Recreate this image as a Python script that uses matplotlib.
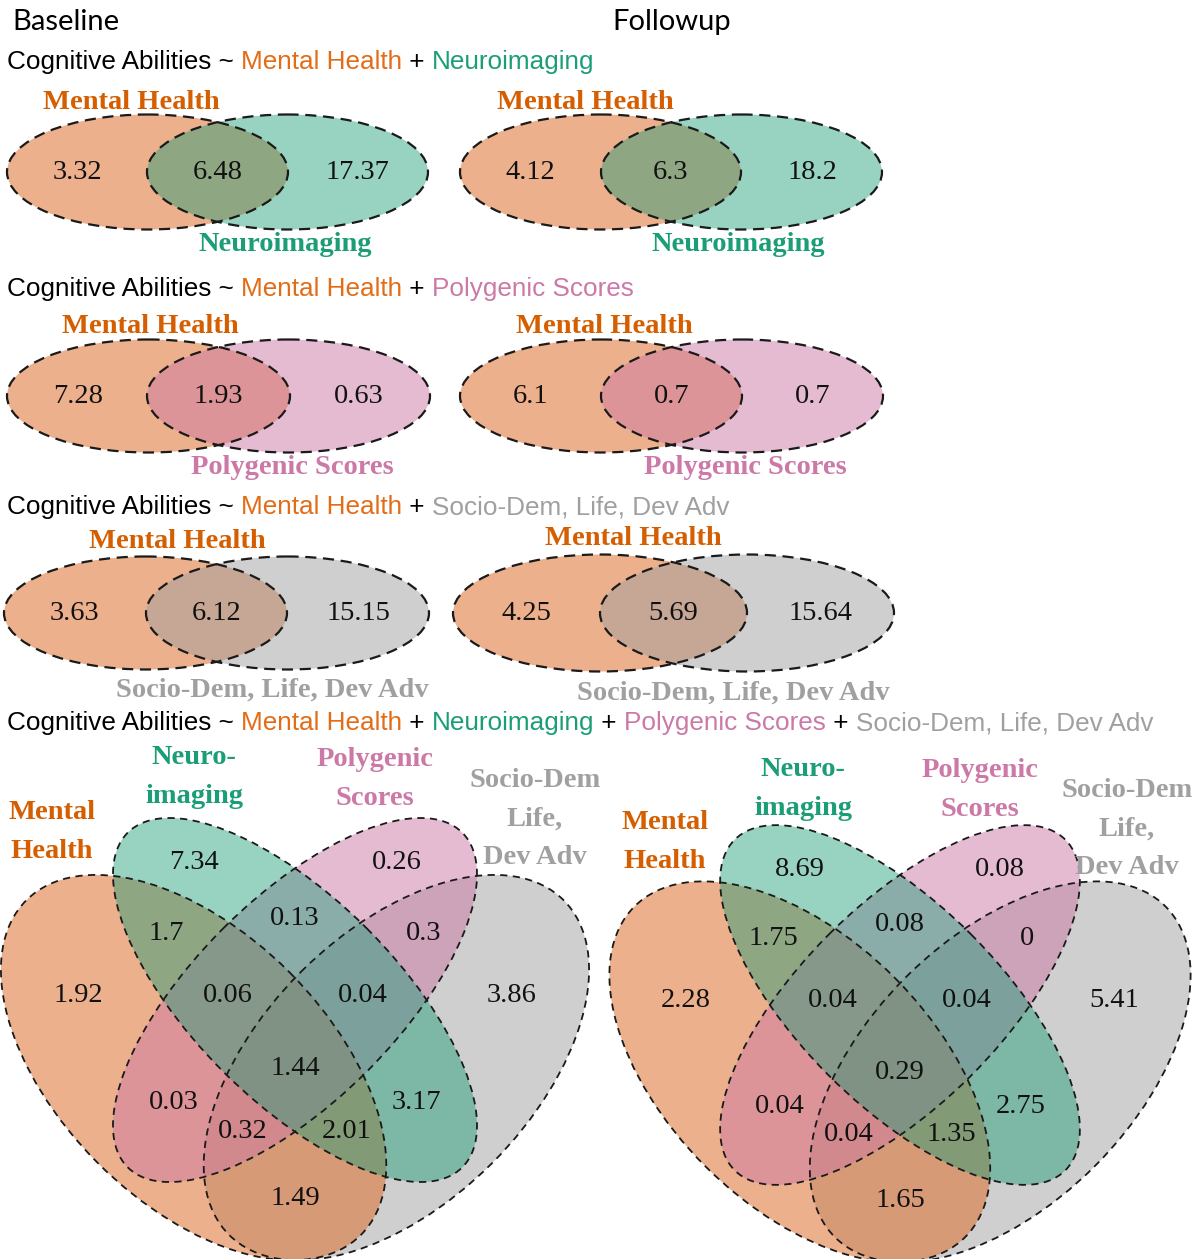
import matplotlib
matplotlib.use("Agg")
import matplotlib.pyplot as plt
from matplotlib.colors import to_rgba
from matplotlib.patches import Ellipse

W, H = 1195, 1259

# colours
MH_COL = "#D55E00"
MH_FILL = "#DF6F2E"
NI_COL = "#1B9E77"
PG_COL = "#CC79A7"
SD_COL = "#A0A0A0"
FORM_MH = "#E36C17"

# two-set diagrams: [Mental Health only, shared, other only]
mh_ni_base = [3.32, 6.48, 17.37]
mh_ni_follow = [4.12, 6.3, 18.2]
mh_pg_base = [7.28, 1.93, 0.63]
mh_pg_follow = [6.1, 0.7, 0.7]
mh_sd_base = [3.63, 6.12, 15.15]
mh_sd_follow = [4.25, 5.69, 15.64]

# four-set diagram regions
regions4 = ["MH", "NI", "PG", "SD", "MH&NI", "NI&PG", "PG&SD", "MH&NI&PG",
            "NI&PG&SD", "MH&NI&PG&SD", "MH&PG", "NI&SD", "MH&PG&SD",
            "MH&NI&SD", "MH&SD"]
quad_base = [1.92, 7.34, 0.26, 3.86, 1.7, 0.13, 0.3, 0.06, 0.04, 1.44,
             0.03, 3.17, 0.32, 2.01, 1.49]
quad_follow = [2.28, 8.69, 0.08, 5.41, 1.75, 0.08, 0, 0.04, 0.04, 0.29,
               0.04, 2.75, 0.04, 1.35, 1.65]

# label spots of the regions, in unit venn coordinates (y up)
quad_pos = [(0.18, 0.577), (0.35, 0.773), (0.65, 0.773), (0.82, 0.577),
            (0.31, 0.669), (0.5, 0.69), (0.69, 0.669), (0.40, 0.577),
            (0.60, 0.577), (0.5, 0.469), (0.32, 0.418), (0.68, 0.418),
            (0.423, 0.376), (0.577, 0.376), (0.5, 0.277)]

SERIF = "Liberation Serif"
SANS = "Liberation Sans"

fig = plt.figure(figsize=(W / 100, H / 100), dpi=100)
ax = fig.add_axes([0, 0, 1, 1])
ax.set_xlim(0, W)
ax.set_ylim(H, 0)
ax.axis("off")


def fmt(v):
    return f"{v:g}"


def formula(x, y, parts):
    prev = None
    for txt, col in parts:
        if prev is None:
            prev = ax.text(x, y, txt, color=col, fontsize=18.8, family=SANS,
                           va="center", ha="left")
        else:
            prev = ax.annotate(txt, xy=(1, 0), xycoords=prev, color=col,
                               fontsize=18.8, family=SANS, va="bottom", ha="left")


def two_set(cx, cy, w, h, d, vals, col2, a2, top_xy, bot_xy, bot_name):
    ax.add_patch(Ellipse((cx, cy), w, h, fc=to_rgba(MH_FILL, 0.55), ec="none"))
    ax.add_patch(Ellipse((cx + d, cy), w, h, fc=to_rgba(col2, a2), ec="none"))
    for c in (cx, cx + d):
        ax.add_patch(Ellipse((c, cy), w, h, fc="none", ec="#1a1a1a",
                             lw=1.6, ls=(0, (5, 3))))
    xs = [cx - d / 2, cx + d / 2, cx + 1.5 * d]
    for xv, v in zip(xs, vals):
        ax.text(xv, cy, fmt(v), fontsize=20.5, family=SERIF, ha="center",
                va="center", color="#111111")
    ax.text(*top_xy, "Mental Health", fontsize=20.5, family=SERIF,
            weight="bold", color=MH_COL, ha="center", va="center")
    ax.text(*bot_xy, bot_name, fontsize=20.5, family=SERIF, weight="bold",
            color=col2, ha="center", va="center")


def four_set(x0, y0, s, vals, name_xy):
    def P(u, v):
        return x0 + (u - 0.5) * s, y0 + (0.57 - v) * s

    # drawing order: grey, orange, pink, teal
    sets = [((0.65, 0.47), 0.4, -45, SD_COL, 0.5),
            ((0.35, 0.47), 0.4, 45, MH_FILL, 0.55),
            ((0.5, 0.57), 0.3, -45, PG_COL, 0.5),
            ((0.5, 0.57), 0.3, 45, NI_COL, 0.45)]
    for (u, v), b, ang, col, a in sets:
        ax.add_patch(Ellipse(P(u, v), 0.7 * s, b * s, angle=ang,
                             fc=to_rgba(col, a), ec="none"))
    for (u, v), b, ang, col, a in sets:
        ax.add_patch(Ellipse(P(u, v), 0.7 * s, b * s, angle=ang, fc="none",
                             ec="#1a1a1a", lw=1.3, ls=(0, (4, 3))))
    for (u, v), val in zip(quad_pos, vals):
        ax.text(*P(u, v), fmt(val), fontsize=20.5, family=SERIF,
                ha="center", va="center", color="#111111")
    names = ["Mental\nHealth", "Neuro-\nimaging", "Polygenic\nScores",
             "Socio-Dem\nLife,\nDev Adv"]
    cols = [MH_COL, NI_COL, PG_COL, SD_COL]
    for (nx, ny), nm, col in zip(name_xy, names, cols):
        ax.text(nx, ny, nm, fontsize=20.5, family=SERIF, weight="bold",
                color=col, ha="center", va="center", linespacing=1.72)


# headers
ax.text(12, 22, "Baseline", fontsize=21, family="Lato", va="center", ha="left")
ax.text(612, 22, "Followup", fontsize=21, family="Lato", va="center", ha="left")

base = [("Cognitive Abilities ~ ", "black"), ("Mental Health", FORM_MH)]
formula(7, 62, base + [(" + ", "black"), ("Neuroimaging", NI_COL)])
formula(7, 289, base + [(" + ", "black"), ("Polygenic Scores", PG_COL)])
formula(7, 507, base + [(" + ", "black"), ("Socio-Dem, Life, Dev Adv", SD_COL)])
formula(7, 723, base + [(" + ", "black"), ("Neuroimaging", NI_COL),
                        (" + ", "black"), ("Polygenic Scores", PG_COL),
                        (" + ", "black"), ("Socio-Dem, Life, Dev Adv", SD_COL)])

# row 1
two_set(147.5, 172, 281, 115, 140, mh_ni_base, NI_COL, 0.45,
        (131, 102), (285, 244), "Neuroimaging")
two_set(600.5, 172, 281, 115, 141, mh_ni_follow, NI_COL, 0.45,
        (585, 102), (738, 244), "Neuroimaging")
# row 2
two_set(148.5, 396, 283, 113, 140, mh_pg_base, PG_COL, 0.5,
        (150, 326), (292, 467), "Polygenic Scores")
two_set(601, 396, 282, 113, 141, mh_pg_follow, PG_COL, 0.5,
        (604, 326), (745, 467), "Polygenic Scores")
# row 3
two_set(145.5, 613, 283, 113, 142, mh_sd_base, SD_COL, 0.5,
        (177, 541), (272, 690), "Socio-Dem, Life, Dev Adv")
two_set(600, 613, 294, 117, 147, mh_sd_follow, SD_COL, 0.5,
        (633, 538), (733, 693), "Socio-Dem, Life, Dev Adv")

# row 4
four_set(295, 1000, 676, quad_base,
         [(52, 832), (194, 777), (375, 779), (535, 819)])
four_set(900, 1005, 668, quad_follow,
         [(665, 842), (803, 789), (980, 790), (1127, 829)])

fig.savefig("out.png", dpi=100)
